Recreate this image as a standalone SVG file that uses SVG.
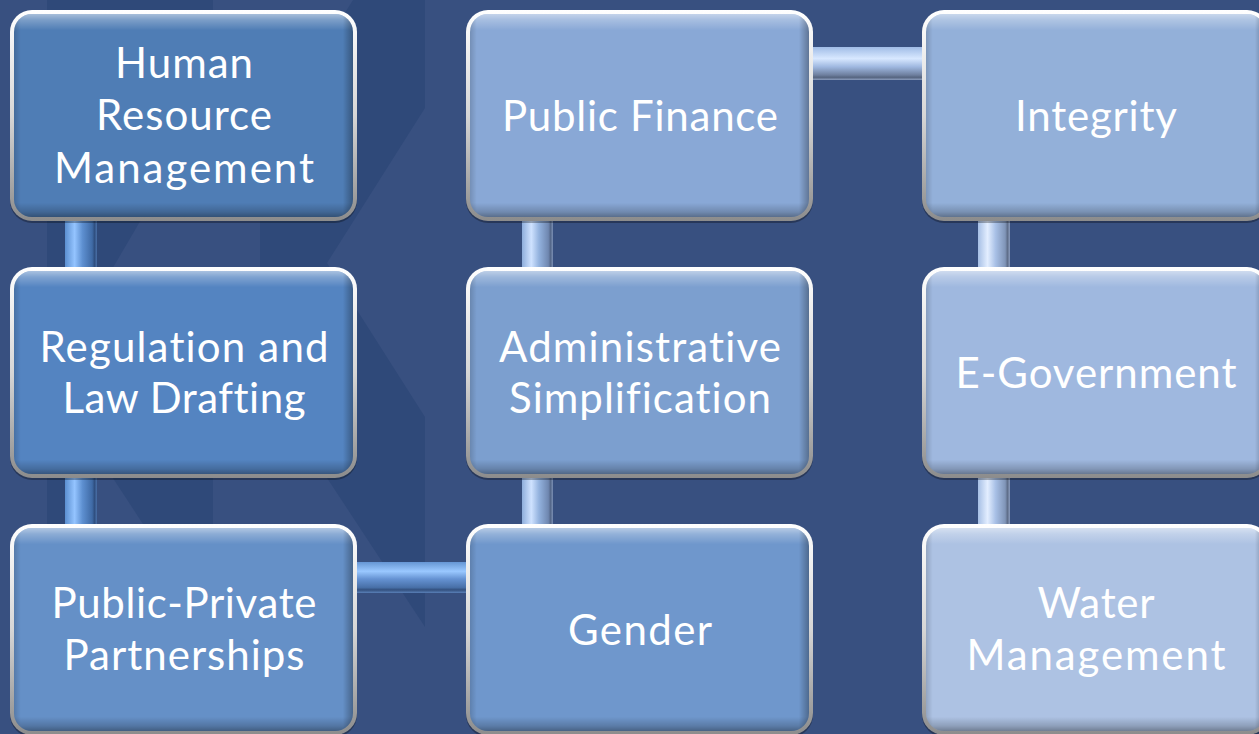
<svg xmlns="http://www.w3.org/2000/svg" width="1259" height="734" viewBox="0 0 1259 734">
<style>
.lbl{font-family:Lato,"Liberation Sans",sans-serif;font-size:42px;fill:#ffffff;text-anchor:middle;font-variant-ligatures:none;font-feature-settings:"liga" 0,"clig" 0,"dlig" 0}
.wm{fill:#2f4979}
.wl{fill:#385080}
</style>
<defs>
<linearGradient id="rim" x1="0" y1="0" x2="0" y2="1">
<stop offset="0" stop-color="#ffffff"/>
<stop offset="0.5" stop-color="#d6d6d6"/>
<stop offset="1" stop-color="#8c8c8c"/>
</linearGradient>
<linearGradient id="bevV" x1="0" y1="0" x2="0" y2="1">
<stop offset="0" stop-color="#ffffff" stop-opacity="0.5"/>
<stop offset="0.03" stop-color="#ffffff" stop-opacity="0.25"/>
<stop offset="0.08" stop-color="#ffffff" stop-opacity="0"/>
<stop offset="0.93" stop-color="#000000" stop-opacity="0"/>
<stop offset="0.975" stop-color="#000000" stop-opacity="0.18"/>
<stop offset="1" stop-color="#000000" stop-opacity="0.35"/>
</linearGradient>
<linearGradient id="bevH" x1="0" y1="0" x2="1" y2="0">
<stop offset="0" stop-color="#000000" stop-opacity="0.15"/>
<stop offset="0.02" stop-color="#000000" stop-opacity="0"/>
<stop offset="0.97" stop-color="#000000" stop-opacity="0"/>
<stop offset="1" stop-color="#000000" stop-opacity="0.3"/>
</linearGradient>
<linearGradient id="tAv" x1="0" y1="0" x2="1" y2="0">
<stop offset="0" stop-color="#5b8fd0"/><stop offset="0.3" stop-color="#94c4ff"/><stop offset="0.55" stop-color="#5d8fd0"/><stop offset="0.85" stop-color="#3f6aa5"/><stop offset="0.92" stop-color="#2f4f80"/><stop offset="1" stop-color="#4a70a8"/>
</linearGradient>
<linearGradient id="tAh" x1="0" y1="0" x2="0" y2="1">
<stop offset="0" stop-color="#6696d4"/><stop offset="0.3" stop-color="#9ac8ff"/><stop offset="0.55" stop-color="#6592d2"/><stop offset="0.82" stop-color="#4870a8"/><stop offset="0.9" stop-color="#33507e"/><stop offset="1" stop-color="#5a80b8"/>
</linearGradient>
<linearGradient id="tBv" x1="0" y1="0" x2="1" y2="0">
<stop offset="0" stop-color="#8eaedc"/><stop offset="0.3" stop-color="#cfe2ff"/><stop offset="0.55" stop-color="#93b2de"/><stop offset="0.85" stop-color="#6f87b0"/><stop offset="0.92" stop-color="#55688a"/><stop offset="1" stop-color="#7a8fb5"/>
</linearGradient>
<linearGradient id="tCv" x1="0" y1="0" x2="1" y2="0">
<stop offset="0" stop-color="#a6bfe5"/><stop offset="0.3" stop-color="#e3eeff"/><stop offset="0.55" stop-color="#a8c0e6"/><stop offset="0.85" stop-color="#8095b8"/><stop offset="0.92" stop-color="#5f6e8a"/><stop offset="1" stop-color="#8a9cbd"/>
</linearGradient>
<linearGradient id="tCh" x1="0" y1="0" x2="0" y2="1">
<stop offset="0" stop-color="#a0bce6"/><stop offset="0.35" stop-color="#d8e8ff"/><stop offset="0.6" stop-color="#9fb8e0"/><stop offset="0.85" stop-color="#6e7f9e"/><stop offset="0.92" stop-color="#566580"/><stop offset="1" stop-color="#8a9cbd"/>
</linearGradient>
</defs>

<rect x="0" y="0" width="1259" height="734" fill="#385080"/>
<g id="watermark">
<rect class="wm" x="47" y="0" width="166" height="734"/>
<polygon class="wl" points="176,160 260,160 260,300 94,300"/>
<polygon class="wl" points="65,440 88,440 160,550 65,550"/>
<polygon class="wm" points="353,0 425,0 425,108 327,263 425,417 425,627 260,376 260,147"/>
</g>

<g id="connectors">
<rect x="65" y="214" width="32" height="60" fill="url(#tAv)"/>
<rect x="65" y="471" width="32" height="60" fill="url(#tAv)"/>
<rect x="352" y="562" width="119" height="31" fill="url(#tAh)"/>
<rect x="522" y="471" width="31" height="60" fill="url(#tBv)"/>
<rect x="522" y="214" width="31" height="60" fill="url(#tBv)"/>
<rect x="808" y="47" width="119" height="33" fill="url(#tCh)"/>
<rect x="978" y="214" width="32" height="60" fill="url(#tCv)"/>
<rect x="978" y="471" width="32" height="60" fill="url(#tCv)"/>
</g>

<g id="n1">
<rect x="10" y="12" width="347" height="211" rx="22" fill="#000" opacity="0.3"/>
<rect x="10" y="10" width="347" height="211" rx="22" fill="url(#rim)"/>
<rect x="14" y="14" width="339" height="203" rx="18" fill="#4f7db5"/>
<rect x="14" y="14" width="339" height="203" rx="18" fill="url(#bevV)"/>
<rect x="14" y="14" width="339" height="203" rx="18" fill="url(#bevH)"/>
<text class="lbl" x="184" y="78" textLength="138">Human</text>
<text class="lbl" x="184" y="130" textLength="176">Resource</text>
<text class="lbl" x="184" y="183" textLength="260">Management</text>
</g>

<g id="n2">
<rect x="10" y="269" width="347" height="211" rx="22" fill="#000" opacity="0.3"/>
<rect x="10" y="267" width="347" height="211" rx="22" fill="url(#rim)"/>
<rect x="14" y="271" width="339" height="203" rx="18" fill="#5484c1"/>
<rect x="14" y="271" width="339" height="203" rx="18" fill="url(#bevV)"/>
<rect x="14" y="271" width="339" height="203" rx="18" fill="url(#bevH)"/>
<text class="lbl" x="184" y="362" textLength="289">Regulation and</text>
<text class="lbl" x="184" y="413" textLength="243">Law Drafting</text>
</g>

<g id="n3">
<rect x="10" y="526" width="347" height="211" rx="22" fill="#000" opacity="0.3"/>
<rect x="10" y="524" width="347" height="211" rx="22" fill="url(#rim)"/>
<rect x="14" y="528" width="339" height="203" rx="18" fill="#6590c7"/>
<rect x="14" y="528" width="339" height="203" rx="18" fill="url(#bevV)"/>
<rect x="14" y="528" width="339" height="203" rx="18" fill="url(#bevH)"/>
<text class="lbl" x="184" y="618" textLength="265">Public-Private</text>
<text class="lbl" x="184" y="670" textLength="241">Partnerships</text>
</g>

<g id="n4">
<rect x="466" y="526" width="347" height="211" rx="22" fill="#000" opacity="0.3"/>
<rect x="466" y="524" width="347" height="211" rx="22" fill="url(#rim)"/>
<rect x="470" y="528" width="339" height="203" rx="18" fill="#6f97cc"/>
<rect x="470" y="528" width="339" height="203" rx="18" fill="url(#bevV)"/>
<rect x="470" y="528" width="339" height="203" rx="18" fill="url(#bevH)"/>
<text class="lbl" x="640" y="645" textLength="144">Gender</text>
</g>

<g id="n5">
<rect x="466" y="269" width="347" height="211" rx="22" fill="#000" opacity="0.3"/>
<rect x="466" y="267" width="347" height="211" rx="22" fill="url(#rim)"/>
<rect x="470" y="271" width="339" height="203" rx="18" fill="#7c9fcf"/>
<rect x="470" y="271" width="339" height="203" rx="18" fill="url(#bevV)"/>
<rect x="470" y="271" width="339" height="203" rx="18" fill="url(#bevH)"/>
<text class="lbl" x="640" y="362" textLength="282">Administrative</text>
<text class="lbl" x="640" y="413" textLength="262">Simplification</text>
</g>

<g id="n6">
<rect x="466" y="12" width="347" height="211" rx="22" fill="#000" opacity="0.3"/>
<rect x="466" y="10" width="347" height="211" rx="22" fill="url(#rim)"/>
<rect x="470" y="14" width="339" height="203" rx="18" fill="#89a8d6"/>
<rect x="470" y="14" width="339" height="203" rx="18" fill="url(#bevV)"/>
<rect x="470" y="14" width="339" height="203" rx="18" fill="url(#bevH)"/>
<text class="lbl" x="640" y="131" textLength="276">Public Finance</text>
</g>

<g id="n7">
<rect x="922" y="12" width="347" height="211" rx="22" fill="#000" opacity="0.3"/>
<rect x="922" y="10" width="347" height="211" rx="22" fill="url(#rim)"/>
<rect x="926" y="14" width="339" height="203" rx="18" fill="#93b0d9"/>
<rect x="926" y="14" width="339" height="203" rx="18" fill="url(#bevV)"/>
<rect x="926" y="14" width="339" height="203" rx="18" fill="url(#bevH)"/>
<text class="lbl" x="1096" y="131" textLength="162">Integrity</text>
</g>

<g id="n8">
<rect x="922" y="269" width="347" height="211" rx="22" fill="#000" opacity="0.3"/>
<rect x="922" y="267" width="347" height="211" rx="22" fill="url(#rim)"/>
<rect x="926" y="271" width="339" height="203" rx="18" fill="#9fb8df"/>
<rect x="926" y="271" width="339" height="203" rx="18" fill="url(#bevV)"/>
<rect x="926" y="271" width="339" height="203" rx="18" fill="url(#bevH)"/>
<text class="lbl" x="1096" y="388" textLength="281">E-Government</text>
</g>

<g id="n9">
<rect x="922" y="526" width="347" height="211" rx="22" fill="#000" opacity="0.3"/>
<rect x="922" y="524" width="347" height="211" rx="22" fill="url(#rim)"/>
<rect x="926" y="528" width="339" height="203" rx="18" fill="#adc2e3"/>
<rect x="926" y="528" width="339" height="203" rx="18" fill="url(#bevV)"/>
<rect x="926" y="528" width="339" height="203" rx="18" fill="url(#bevH)"/>
<text class="lbl" x="1096" y="618" textLength="117">Water</text>
<text class="lbl" x="1096" y="670" textLength="259">Management</text>
</g>
</svg>
